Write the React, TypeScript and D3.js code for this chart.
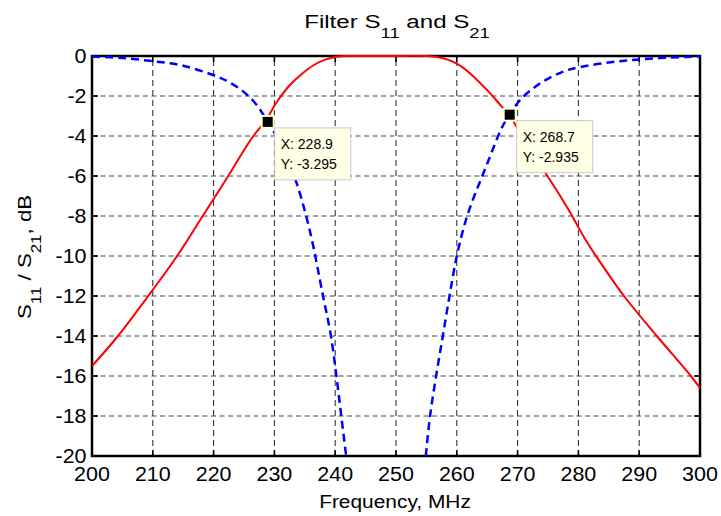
import React from 'react';
import * as d3 from 'd3';

// S21 (red, solid)
const s21Freq = [200, 204, 209, 214, 218, 222.2, 226.3, 228.6, 230.4, 232.4, 234.5, 236.5, 238.5, 240.5, 242.5, 249, 255, 257, 258.5, 260, 262.2, 265.5, 267.4, 268.7, 269.8, 272.2, 274.8, 276.4, 278.5, 281.2, 282.9, 287.5, 292.9, 298.5, 300];
const s21Db = [-15.5, -14.1, -12.1, -10, -8.1, -6.1, -4.1, -3.2, -2.3, -1.5, -0.9, -0.45, -0.17, -0.03, 0, 0, 0, -0.06, -0.18, -0.38, -0.87, -1.87, -2.53, -2.935, -3.53, -4.7, -5.95, -6.7, -7.75, -9.2, -10, -12, -14, -16, -16.6];

// S11 (blue, dashed) - two visible branches, below -20 is off the axes
const s11LeftFreq = [200, 205, 210, 214.5, 219.9, 222.5, 224.9, 227.1, 228.9, 230.1, 232, 233.6, 235.8, 238, 239.3, 240.2, 241, 241.8];
const s11LeftDb = [-0.03, -0.1, -0.26, -0.45, -0.95, -1.3, -1.78, -2.45, -3.295, -3.9, -5.1, -6.3, -8.7, -12, -14, -16, -18, -20];
const s11RightFreq = [254.9, 255.6, 256.6, 257.7, 258.8, 260, 261.5, 263, 263.8, 265.5, 266.8, 267.9, 268.7, 270.4, 273.7, 277.5, 280.3, 285.6, 290, 295, 300];
const s11RightDb = [-20, -18, -16, -14, -12, -10, -8.2, -6.9, -6.3, -5, -4, -3.3, -2.935, -2.2, -1.37, -0.78, -0.55, -0.3, -0.17, -0.08, -0.03];

const xTicks = [200, 210, 220, 230, 240, 250, 260, 270, 280, 290, 300];
const yTicks = [0, -2, -4, -6, -8, -10, -12, -14, -16, -18, -20];

const tipFreq = [228.9, 268.7];
const tipDb = [-3.295, -2.935];

const W = 721;
const H = 516;
const left = 92, right = 700, top = 56, bottom = 456;
const FONT = 'Arial, "Liberation Sans", Helvetica, sans-serif';

const App = () => {
  const x = d3.scaleLinear().domain([200, 300]).range([left, right]);
  const y = d3.scaleLinear().domain([-20, 0]).range([bottom, top]);

  const line = d3.line<number[]>()
    .x(d => x(d[0]))
    .y(d => y(d[1]))
    .curve(d3.curveCatmullRom.alpha(0.5));

  const s21 = line(s21Freq.map((f, i) => [f, s21Db[i]]));
  const s11a = line(s11LeftFreq.map((f, i) => [f, s11LeftDb[i]]));
  const s11b = line(s11RightFreq.map((f, i) => [f, s11RightDb[i]]));

  const tickSx = 1.1;

  return (
    <svg width={W} height={H} style={{ position: 'absolute', left: 0, top: 0, background: '#fff' }} fontFamily={FONT}>
      <rect x={0} y={0} width={W} height={H} fill="#fff" />
      <defs>
        <clipPath id="plot">
          <rect x={left} y={top - 1} width={right - left} height={bottom - top + 1} />
        </clipPath>
      </defs>

      {/* grid */}
      {xTicks.slice(1, -1).map(t => (
        <line key={'gx' + t} x1={x(t)} x2={x(t)} y1={bottom} y2={top} stroke="#222" strokeWidth={1} strokeDasharray="6,4" />
      ))}
      {yTicks.slice(1, -1).map(t => (
        <line key={'gy' + t} x1={left} x2={right} y1={y(t)} y2={y(t)} stroke="#444" strokeWidth={1} strokeDasharray="5,3.5" />
      ))}

      {/* frame and ticks */}
      <rect x={left} y={top} width={right - left} height={bottom - top} fill="none" stroke="#000" strokeWidth={2.5} />
      {xTicks.map(t => (
        <g key={'tx' + t}>
          <line x1={x(t)} x2={x(t)} y1={bottom} y2={bottom - 6} stroke="#000" strokeWidth={1.6} />
          <line x1={x(t)} x2={x(t)} y1={top} y2={top + 6} stroke="#000" strokeWidth={1.6} />
          <g transform={`translate(${x(t)},${bottom + 25}) scale(${tickSx},1)`}>
            <text textAnchor="middle" fontSize={19.5} fill="#000">{t}</text>
          </g>
        </g>
      ))}
      {yTicks.map(t => (
        <g key={'ty' + t}>
          <line x1={left} x2={left + 6} y1={y(t)} y2={y(t)} stroke="#000" strokeWidth={1.6} />
          <line x1={right} x2={right - 6} y1={y(t)} y2={y(t)} stroke="#000" strokeWidth={1.6} />
          <g transform={`translate(${left - 5.5},${y(t) + 7}) scale(${tickSx},1)`}>
            <text textAnchor="end" fontSize={19.5} fill="#000">{t}</text>
          </g>
        </g>
      ))}

      {/* curves */}
      <g clipPath="url(#plot)">
        <path d={s21 || ''} fill="none" stroke="#ff0000" strokeWidth={2} />
        <path d={s11a || ''} fill="none" stroke="#0000ff" strokeWidth={2.5} strokeDasharray="8,5" />
        <path d={s11b || ''} fill="none" stroke="#0000ff" strokeWidth={2.5} strokeDasharray="8,5" />
      </g>

      {/* datatips */}
      {tipFreq.map((f, i) => {
        const px = x(f);
        const py = y(tipDb[i]);
        return (
          <g key={'tip' + i}>
            <rect x={px - 7} y={py - 7} width={14} height={14} fill="#ffffd8" />
            <rect x={px - 5} y={py - 5} width={10} height={10} fill="#000" />
            <rect x={px + 7} y={py + 6} width={76} height={52} fill="#ffffe6" stroke="#c8c8c8" strokeWidth={1} />
            <text x={px + 13} y={py + 27} fontSize={14} fill="#000">{`X: ${f}`}</text>
            <text x={px + 13} y={py + 47} fontSize={14} fill="#000">{`Y: ${tipDb[i]}`}</text>
          </g>
        );
      })}

      {/* title */}
      <g transform={`translate(397,28) scale(1.27,1)`}>
        <text textAnchor="middle" fontSize={19} fill="#000" style={{ whiteSpace: 'pre' }}>
          <tspan>Filter S</tspan>
          <tspan dy={10} fontSize={14.5}>11</tspan>
          <tspan dy={-10}> and S</tspan>
          <tspan dy={10} fontSize={14.5}>21</tspan>
        </text>
      </g>

      {/* x label */}
      <g transform={`translate(395,508) scale(1.1,1)`}>
        <text textAnchor="middle" fontSize={19} fill="#000">Frequency, MHz</text>
      </g>

      {/* y label */}
      <g transform={`translate(31,257) rotate(-90) scale(1.17,1)`}>
        <text textAnchor="middle" fontSize={19} fill="#000" style={{ whiteSpace: 'pre' }}>
          <tspan>S</tspan>
          <tspan dy={10} fontSize={14.5}>11</tspan>
          <tspan dy={-10}> / S</tspan>
          <tspan dy={10} fontSize={14.5}>21</tspan>
          <tspan dy={-10}>, dB</tspan>
        </text>
      </g>
    </svg>
  );
};

export default App;
